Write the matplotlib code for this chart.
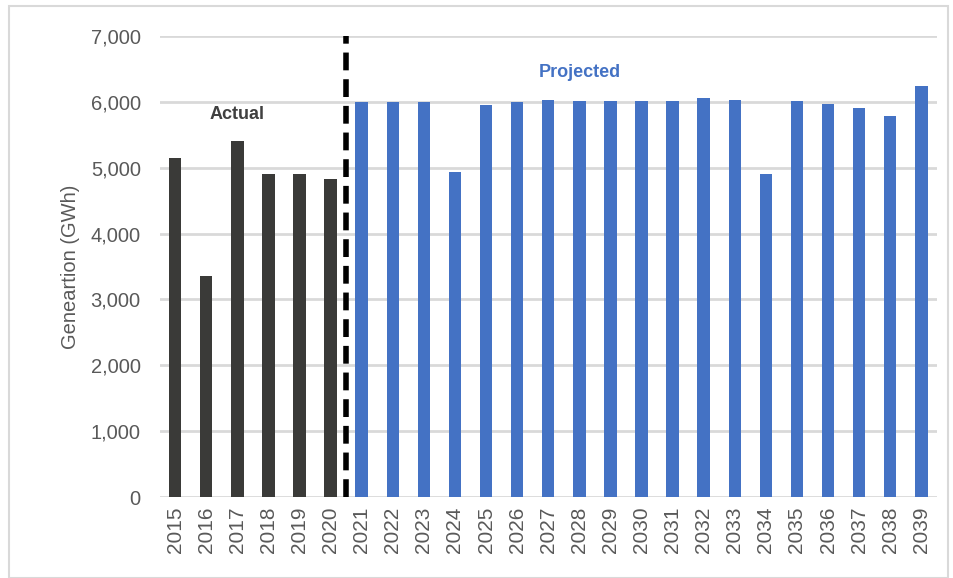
import matplotlib.pyplot as plt
import numpy as np

# values (GWh)
actual_years = [2015, 2016, 2017, 2018, 2019, 2020]
actual_gen = [5140, 3350, 5400, 4900, 4900, 4825]
proj_years = list(range(2021, 2040))
proj_gen = [6000, 6000, 6000, 4930, 5950, 5990, 6030, 6010, 6010, 6010,
            6010, 6050, 6030, 4910, 6010, 5970, 5910, 5780, 6240]

years = actual_years + proj_years
x_act = np.arange(len(actual_years))
x_proj = np.arange(len(actual_years), len(years))

plt.rcParams['font.family'] = ['Liberation Sans', 'DejaVu Sans']
grey = '#595959'

fig = plt.figure(figsize=(9.54, 5.78), dpi=100)
ax = fig.add_axes([0.168, 0.140, 0.814, 0.798])

ax.bar(x_act, actual_gen, width=0.4, color='#3A3A38', zorder=3)
ax.bar(x_proj, proj_gen, width=0.4, color='#4472C4', zorder=3)

# divider between actual and projected
ax.plot([len(actual_years) - 0.5] * 2, [0, 7000], color='black', lw=4,
        ls=(0, (3.2, 1.6)), zorder=4, clip_on=False)

ax.set_xlim(-0.48, len(years) - 0.5)
ax.set_ylim(0, 7000)
ax.set_yticks(range(0, 7001, 1000))
ax.set_yticklabels([f'{v:,}' for v in range(0, 7001, 1000)])
ax.set_xticks(range(len(years)))
ax.set_xticklabels([str(y) for y in years], rotation=90)
ax.tick_params(axis='both', length=0, colors=grey)
ax.tick_params(axis='y', pad=14, labelsize=14.5)
ax.tick_params(axis='x', pad=7, labelsize=15)
ax.yaxis.grid(True, color='#D9D9D9', lw=2, zorder=0)
for s in ax.spines.values():
    s.set_visible(False)
ax.set_ylabel('Geneartion (GWh)', color=grey, fontsize=14.5, labelpad=8)

ax.text(2.0, 5810, 'Actual', color='#404040', fontsize=13, weight='bold',
        ha='center', va='center')
ax.text(13.0, 6440, 'Projected', color='#4472C4', fontsize=13,
        weight='bold', ha='center', va='center')

# light frame around the figure
fig.patches.append(plt.Rectangle((0.009, 0.0), 0.985, 0.989,
                                 transform=fig.transFigure, fill=False,
                                 ec='#D9D9D9', lw=1.5))

fig.savefig('out.png', dpi=100)
